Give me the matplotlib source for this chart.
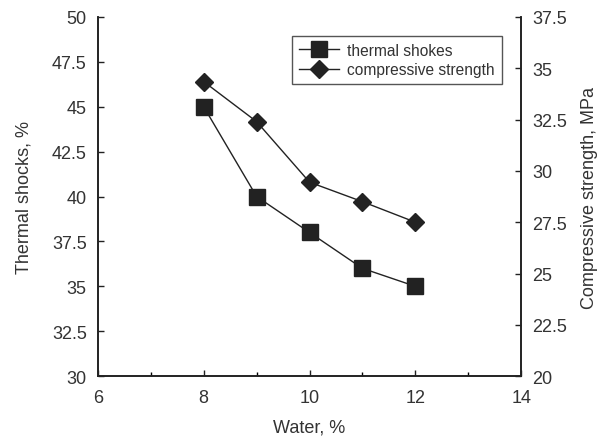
import matplotlib
matplotlib.use("Agg")
import matplotlib.pyplot as plt
import numpy as np

water = [8, 9, 10, 11, 12]
thermal_shocks = [45.0, 40.0, 38.0, 36.0, 35.0]
compressive_strength = [34.35, 32.4, 29.45, 28.5, 27.5]

plt.rcParams['font.family'] = ['Liberation Sans', 'DejaVu Sans']
plt.rcParams['font.size'] = 13

fig = plt.figure(figsize=(5.97, 4.39), dpi=100)
ax = fig.add_axes([0.164, 0.141, 0.709, 0.818])
ax2 = ax.twinx()

l1, = ax.plot(water, thermal_shocks, color='#222222', lw=1.0,
              marker='s', markersize=11, markerfacecolor='#222222',
              markeredgecolor='#222222', label='thermal shokes')
l2, = ax2.plot(water, compressive_strength, color='#222222', lw=1.0,
               marker='D', markersize=9, markerfacecolor='#222222',
               markeredgecolor='#222222', label='compressive strength')

ax.set_xlim(6, 14)
ax.set_ylim(30, 50)
ax2.set_ylim(20, 37.5)
ax.set_xticks(np.arange(6, 14.1, 2))
ax.set_xticks(np.arange(7, 14, 2), minor=True)
ax.set_yticks(np.arange(30, 50.1, 2.5))
ax2.set_yticks(np.arange(20, 37.6, 2.5))
ax.set_yticklabels([f"{v:g}" for v in np.arange(30, 50.1, 2.5)])
ax2.set_yticklabels([f"{v:g}" for v in np.arange(20, 37.6, 2.5)])

for a in (ax, ax2):
    a.spines['top'].set_visible(False)
    for s in a.spines.values():
        s.set_linewidth(1.2)
        s.set_color('#222222')
ax.tick_params(axis='both', which='major', direction='in', length=4,
               width=1, colors='#222222', labelcolor='#333333', pad=8)
ax.tick_params(axis='x', which='major', pad=9)
ax.tick_params(axis='x', which='minor', direction='in', length=3, width=1)
ax2.tick_params(axis='y', direction='in', length=4, width=1,
                colors='#222222', labelcolor='#333333', pad=8)

ax.set_xlabel('Water, %', color='#333333', labelpad=9)
ax.set_ylabel('Thermal shocks, %', color='#333333', labelpad=14)
ax2.set_ylabel('Compressive strength, MPa', color='#333333', labelpad=10)

leg = ax.legend([l1, l2], ['thermal shokes', 'compressive strength'],
                loc='upper left', bbox_to_anchor=(0.44, 0.97),
                fancybox=False, framealpha=1, edgecolor='#555555',
                handlelength=2.6, handletextpad=0.5, borderpad=0.45,
                labelspacing=0.3, fontsize=11.2)
leg.get_frame().set_linewidth(1.0)
for t in leg.get_texts():
    t.set_color('#333333')

fig.savefig("out.png", dpi=100)
